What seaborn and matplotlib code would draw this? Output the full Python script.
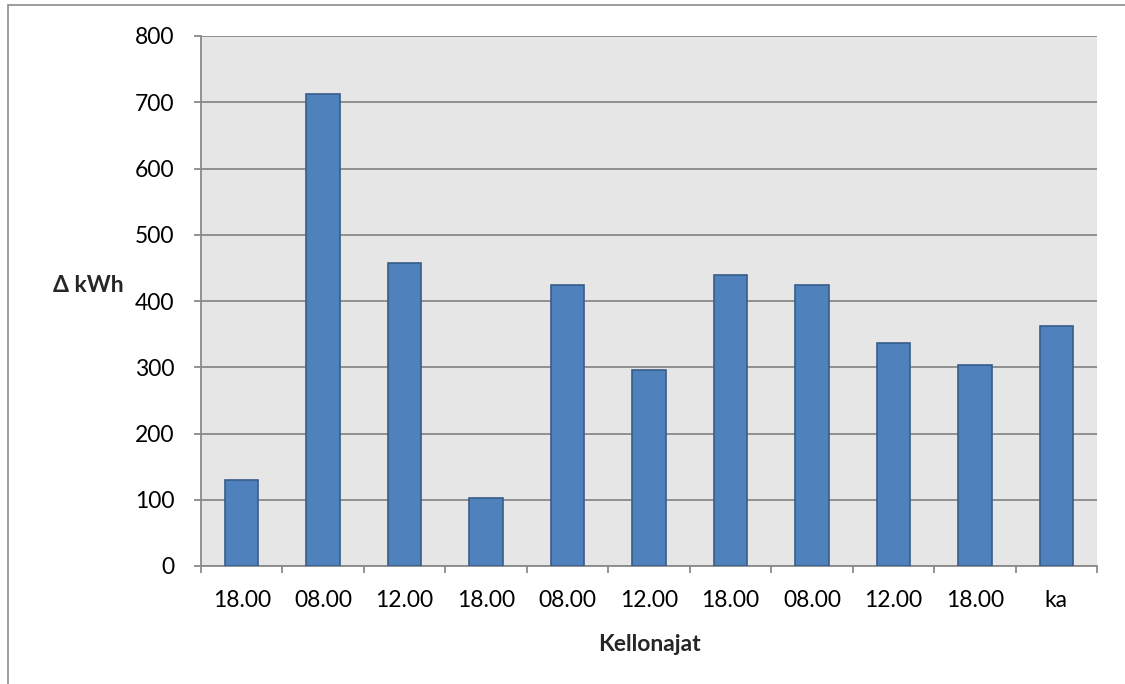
import matplotlib
matplotlib.use("Agg")
import matplotlib.pyplot as plt
import seaborn as sns
import pandas as pd
from matplotlib.patches import Rectangle
from matplotlib.ticker import FixedLocator

# Data
labels = ["18.00", "08.00", "12.00", "18.00", "08.00", "12.00", "18.00", "08.00", "12.00", "18.00", "ka"]
values = [130, 712, 457, 102, 424, 296, 440, 424, 336, 304, 362]
y_ticks = [0, 100, 200, 300, 400, 500, 600, 700, 800]

sns.set_theme(style="white")
plt.rcParams['font.family'] = ['Lato', 'DejaVu Sans']

df = pd.DataFrame({"pos": [str(i) for i in range(len(values))], "val": values})

fig = plt.figure(figsize=(11.25, 6.84), dpi=100)
ax = fig.add_axes([201/1125, 1 - 566/684, (1097 - 201)/1125, (566 - 36)/684])

# outer chart border (left and top visible)
fig.patches.append(Rectangle((8/1125, -0.2), 1.5, 1 - 5/684 + 0.2, transform=fig.transFigure,
                             fill=False, edgecolor="#8c8c8c", linewidth=1.2, zorder=0))

ax.set_facecolor("#e6e6e6")
sns.barplot(data=df, x="pos", y="val", order=df["pos"], color="#4f81bd", width=0.41,
            edgecolor="#385d8a", linewidth=1.2, saturation=1, ax=ax, zorder=3)

ax.set_xlim(-0.5, len(values) - 0.5)
ax.set_ylim(0, 800)
ax.set_yticks(y_ticks)
ax.yaxis.grid(True, color="#8a8a8a", linewidth=1.3, zorder=1)
ax.set_axisbelow(True)

for s in ["top", "right"]:
    ax.spines[s].set_visible(False)
for s in ["left", "bottom"]:
    ax.spines[s].set_color("#8a8a8a")
    ax.spines[s].set_linewidth(1.3)

fs = 16.5
ax.set_xticks(range(len(values)))
ax.set_xticklabels(labels)
ax.xaxis.set_minor_locator(FixedLocator([i - 0.5 for i in range(len(values) + 1)]))
ax.tick_params(axis="x", which="major", length=0, pad=17.5, labelsize=fs, labelcolor="black")
ax.tick_params(axis="x", which="minor", length=5, width=1.3, color="#8a8a8a", direction="out", bottom=True)
ax.tick_params(axis="y", which="major", length=5, width=1.3, color="#8a8a8a", direction="out",
               left=True, pad=14, labelsize=fs, labelcolor="black")

ax.set_xlabel("Kellonajat", fontsize=fs, fontweight="bold", labelpad=16)
ax.set_ylabel("Δ kWh", fontsize=fs, fontweight="bold", rotation=0, va="center", ha="center")
ax.yaxis.set_label_coords(-0.126, 0.530)

fig.savefig("out.png", dpi=100, facecolor="white")
